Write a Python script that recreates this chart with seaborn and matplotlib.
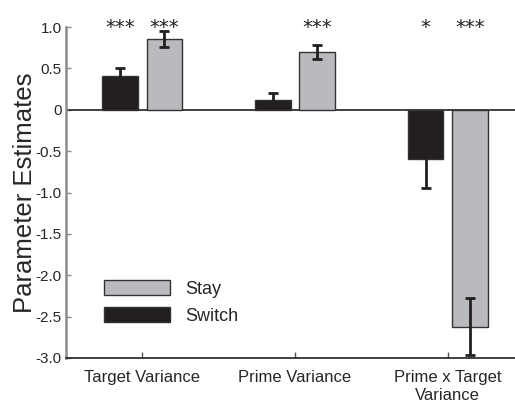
import matplotlib
matplotlib.use("Agg")
import matplotlib.pyplot as plt
import seaborn as sns
import pandas as pd

# data
categories = ["Target Variance", "Prime Variance", "Prime x Target\nVariance"]
switch_vals = [0.41, 0.12, -0.59]
stay_vals = [0.86, 0.70, -2.62]
switch_err = [0.10, 0.08, 0.36]
stay_err = [0.095, 0.08, 0.35]
switch_stars = ["***", "", "*"]
stay_stars = ["***", "***", "***"]
yticks = [1.0, 0.5, 0, -0.5, -1.0, -1.5, -2.0, -2.5, -3.0]
ytick_labels = ["1.0", "0.5", "0", "-0.5", "-1.0", "-1.5", "-2.0", "-2.5", "-3.0"]

sns.set_style("white")
plt.rcParams["font.family"] = ["Liberation Sans", "DejaVu Sans"]

df = pd.DataFrame({
    "category": categories * 2,
    "condition": ["Switch"] * 3 + ["Stay"] * 3,
    "value": switch_vals + stay_vals,
})

fig = plt.figure(figsize=(5.15, 4.04), dpi=100)
ax = fig.add_axes([0.128, 0.114, 0.872, 0.819])

palette = {"Switch": "#231f20", "Stay": "#b9babe"}
sns.barplot(data=df, x="category", y="value", hue="condition",
            hue_order=["Switch", "Stay"], order=categories, palette=palette,
            width=0.58, gap=0.2, errorbar=None, edgecolor="#333333",
            linewidth=1.0, saturation=1, ax=ax, zorder=2)

# error bars and significance stars on top of each bar
bars = ax.patches[:6]
errs = switch_err + stay_err
vals = switch_vals + stay_vals
stars = switch_stars + stay_stars
for bar, v, e, s in zip(bars, vals, errs, stars):
    xc = bar.get_x() + bar.get_width() / 2
    ax.errorbar(xc, v, yerr=e, fmt="none", ecolor="#231f20", elinewidth=2,
                capsize=3.5, capthick=2, zorder=3)
    if s:
        ax.text(xc, 0.925, s, ha="center", va="baseline", fontsize=14,
                family="DejaVu Sans", color="#231f20", clip_on=False)

ax.axhline(0, color="#231f20", linewidth=1.2, zorder=1)

ax.set_xlim(-0.5, 2.44)
ax.set_ylim(-3.0, 1.0)
ax.set_yticks(yticks)
ax.set_yticklabels(ytick_labels, fontsize=11)
ax.set_xticks(range(len(categories)))
ax.set_xticklabels(categories, fontsize=12)
ax.set_xlabel("")
ax.set_ylabel("Parameter Estimates", fontsize=18.5, labelpad=-1)

sns.despine(ax=ax, top=True, right=True)
ax.spines["left"].set_color("#8c8c8c")
ax.spines["left"].set_linewidth(1.8)
ax.spines["bottom"].set_color("#231f20")
ax.spines["bottom"].set_linewidth(1.2)
ax.tick_params(axis="y", left=True, direction="in", length=3.5,
               color="#8c8c8c", width=1, pad=3)
ax.tick_params(axis="x", bottom=True, direction="in", length=4,
               color="#555555", width=1, pad=9)

handles, labels = ax.get_legend_handles_labels()
order = [labels.index("Stay"), labels.index("Switch")]
ax.legend([handles[i] for i in order], [labels[i] for i in order],
          loc="lower left", bbox_to_anchor=(0.064, 0.073), frameon=False,
          fontsize=13, handlelength=3.7, handleheight=0.9,
          labelspacing=0.5, borderpad=0, handletextpad=0.8)

fig.savefig("out.png", dpi=100)
